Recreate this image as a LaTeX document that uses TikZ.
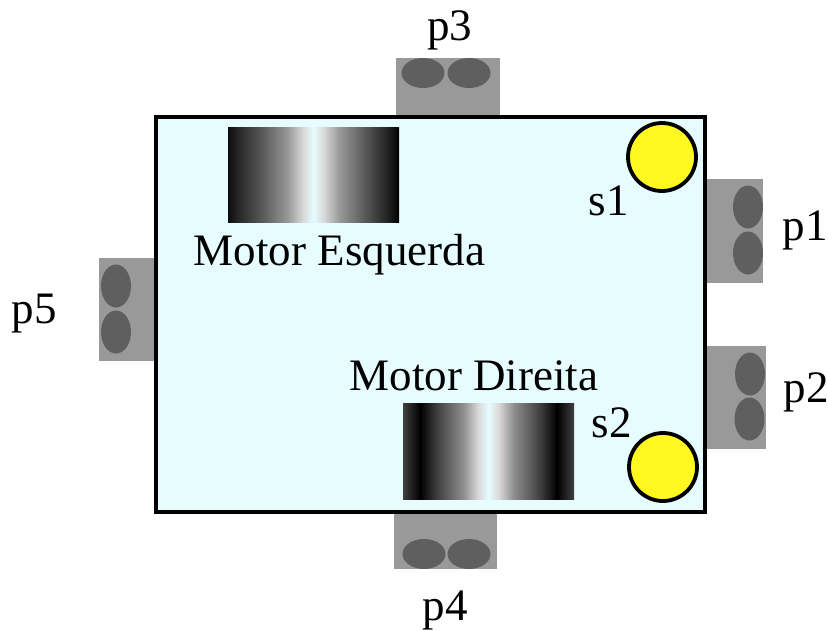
\documentclass[tikz,border=0pt]{standalone}
\usepackage{fontspec}
\setmainfont{Liberation Serif}
\definecolor{body}{HTML}{E6FCFF}
\definecolor{sensgray}{HTML}{999999}
\definecolor{eyegray}{HTML}{5F5F5F}
\definecolor{led}{HTML}{FFF820}
\pgfdeclarehorizontalshading{motorA}{100bp}{
 color(0bp)=(black); color(25bp)=(black!95); color(28bp)=(black!85); color(35bp)=(black!65); color(42.5bp)=(black!40);
 color(47bp)=(black!15); color(50bp)=(body); color(53bp)=(black!15); color(57.5bp)=(black!40);
 color(65bp)=(black!65); color(72bp)=(black!88); color(75bp)=(black); color(100bp)=(black)}
\pgfdeclarehorizontalshading{motorB}{100bp}{
 color(0bp)=(black!75); color(25bp)=(black!75); color(30bp)=(black); color(35bp)=(black!75); color(42.5bp)=(black!45);
 color(47bp)=(black!15); color(50bp)=(body); color(53bp)=(black!15); color(57.5bp)=(black!45);
 color(65bp)=(black!75); color(70bp)=(black); color(75bp)=(black!75); color(100bp)=(black!75)}
\tikzset{x=1pt,y=-1pt,
 lbl/.style={inner sep=0pt,anchor=base,font=\fontsize{45}{47}\selectfont},
 sensor/.style={fill=sensgray,draw=none},
 eyeh/.style={ellipse,fill=eyegray,draw=none,minimum width=43pt,minimum height=30pt,inner sep=0pt},
 eyev/.style={ellipse,fill=eyegray,draw=none,minimum width=30pt,minimum height=43pt,inner sep=0pt},
 ledn/.style={circle,fill=led,draw=black,line width=3.8pt,minimum size=68pt,inner sep=0pt}}
\usetikzlibrary{shapes.geometric}
\begin{document}
\begin{tikzpicture}
\useasboundingbox (0,0) rectangle (828,630);
% sensor housings
\path[sensor] (396,58) rectangle (500,117);
\path[sensor] (705,179) rectangle (763,283);
\path[sensor] (705,346) rectangle (766,449);
\path[sensor] (394,512) rectangle (497,569);
\path[sensor] (99,258) rectangle (156,361);
\node[eyeh] (p3a) at (423,73) {};
\node[eyeh] (p3b) at (469,73) {};
\node[eyev] (p1a) at (748,207) {};
\node[eyev] (p1b) at (748,253) {};
\node[eyev] (p2a) at (750,374) {};
\node[eyev] (p2b) at (749.5,419) {};
\node[eyeh] (p4a) at (424,554) {};
\node[eyeh] (p4b) at (469,554) {};
\node[eyev] (p5a) at (116,286) {};
\node[eyev] (p5b) at (116,332) {};
% chassis
\draw[line width=3.8pt,fill=body] (156,117) rectangle (705,512);
% motors
\path[shade,shading=motorA] (228,127) rectangle (399,222);
\path[shade,shading=motorB] (403,403) rectangle (574,499);
% LEDs
\node[ledn] (s1c) at (662,157) {};
\node[ledn] (s2c) at (663,467) {};
% labels
\node[lbl] (me) at (339.5,265) {Motor Esquerda};
\node[lbl] (md) at (474,390) {Motor Direita};
\node[lbl] (s1) at (608.5,215) {s1};
\node[lbl] (s2) at (612,437) {s2};
\node[lbl] (p1) at (805,240) {p1};
\node[lbl] (p2) at (806,402) {p2};
\node[lbl] (p3) at (449.5,40) {p3};
\node[lbl] (p4) at (445,620) {p4};
\node[lbl] (p5) at (34.5,323) {p5};
\end{tikzpicture}
\end{document}
